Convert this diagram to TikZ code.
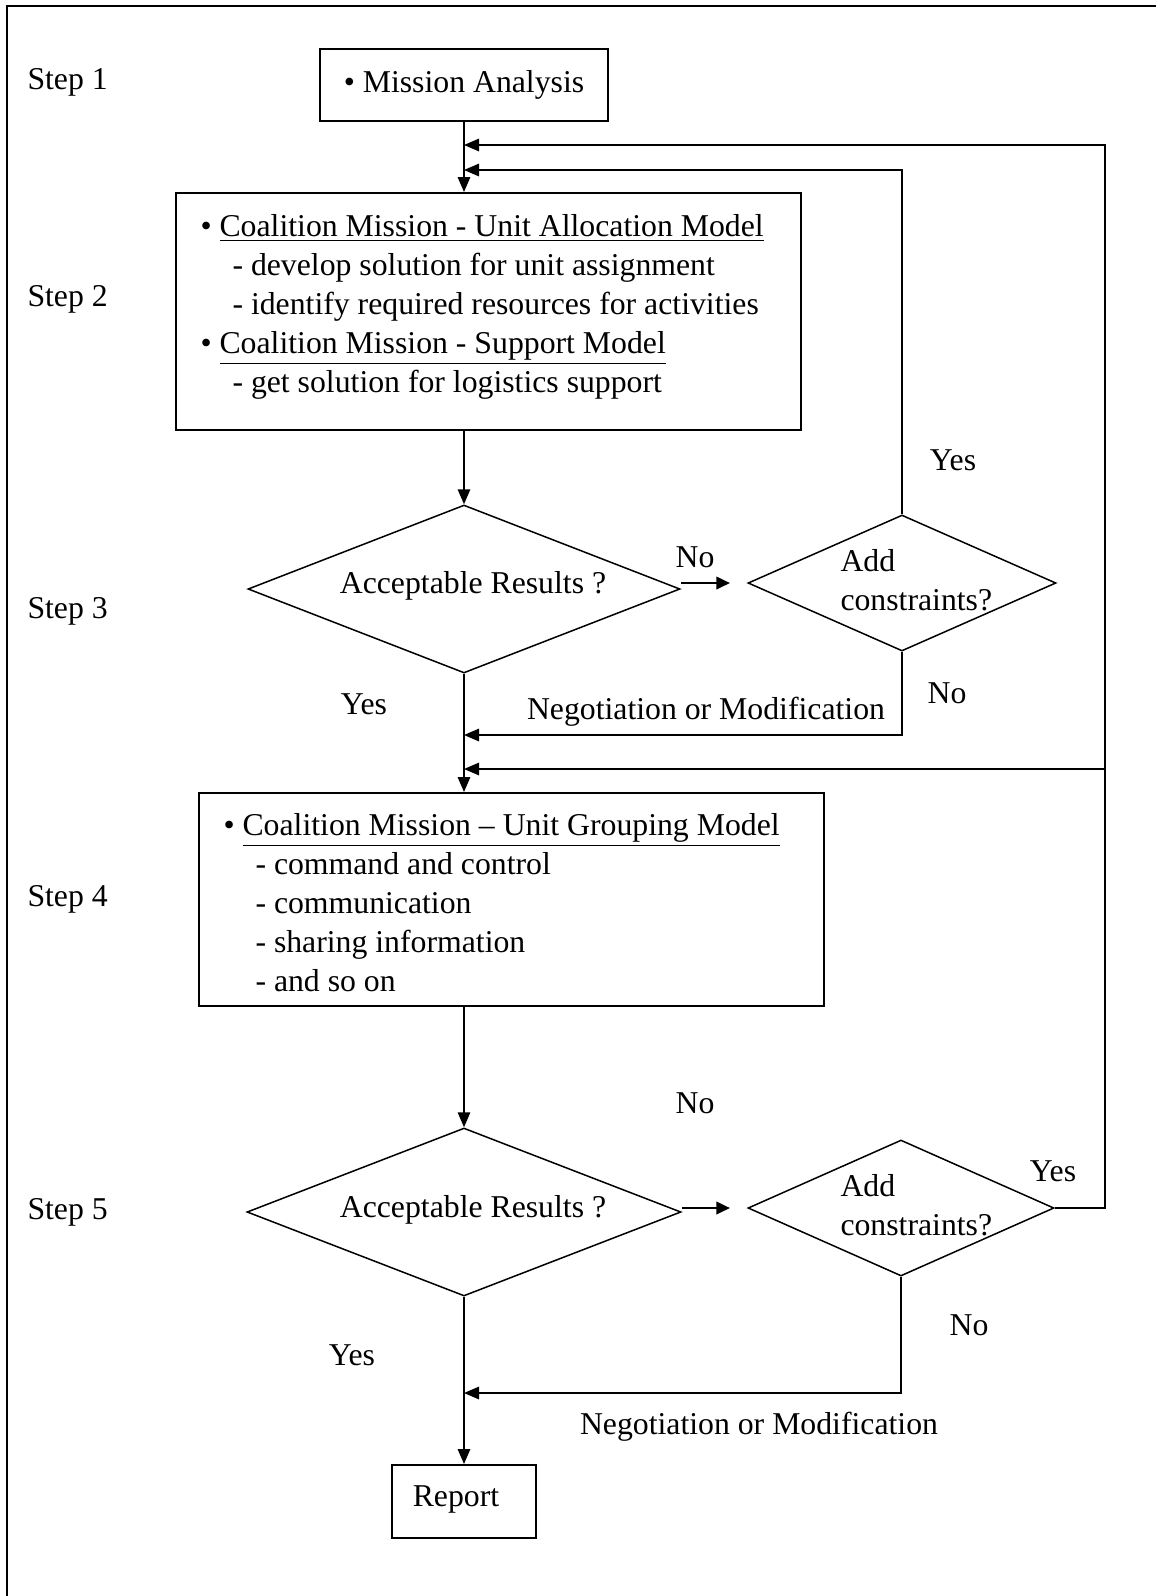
\documentclass[tikz,border=0pt]{standalone}
\usepackage{fontspec}
\setmainfont{Liberation Serif}
\usetikzlibrary{arrows.meta,positioning,shapes.geometric}
\tikzset{
  arrow/.style={-{Triangle[length=6pt,width=5pt]},line width=0.6pt},
  noarrow/.style={-{Triangle[length=5.5pt,width=5pt]},line width=1pt},
  stagebox/.style={draw,line width=0.8pt,inner sep=0pt},
  decision/.style={diamond,draw,line width=0.6pt,inner sep=0pt},
  boxtext/.style={anchor=north west,align=left,inner sep=0pt},
  steplabel/.style={anchor=west,inner sep=0pt},
  flowlabel/.style={inner sep=0pt}
}
\newcommand{\subpt}[1]{\hspace*{12.8pt}- #1}

\begin{document}
\begin{tikzpicture}[x=0.4pt,y=-0.4pt,font=\fontsize{12.7pt}{15.6pt}\selectfont]
  \useasboundingbox (0,0) rectangle (1156,1596);
  \draw[line width=0.8pt] (7,1596) -- (7,6) -- (1156,6);

  % step labels
  \node[steplabel] (step1) at (27,82) {Step 1};
  \node[steplabel] (step2) at (27,299) {Step 2};
  \node[steplabel] (step3) at (27,611) {Step 3};
  \node[steplabel] (step4) at (27,899) {Step 4};
  \node[steplabel] (step5) at (27,1212) {Step 5};

  % step 1
  \node[stagebox,minimum width=115.2pt,minimum height=28.8pt] (mission) at (464,85)
    {\textbullet\ Mission Analysis};

  % step 2
  \node[stagebox,minimum width=250pt,minimum height=94.8pt] (alloc) at (488.5,311.5) {};
  \node[boxtext] (alloctxt) at (200,214)
    {\textbullet\ \underline{Coalition Mission - Unit Allocation Model}\\
     \subpt{develop solution for unit assignment}\\
     \subpt{identify required resources for activities}\\
     \textbullet\ \underline{Coalition Mission - Support Model}\\
     \subpt{get solution for logistics support}};

  % step 3
  \node[decision,minimum width=172.8pt,minimum height=67.2pt] (accept1) at (464,589) {};
  \node[flowlabel] (accept1txt) at (473,586) {Acceptable Results ?};
  \node[decision,minimum width=123.2pt,minimum height=54.4pt] (add1) at (902,583) {};
  \node[flowlabel,align=left,anchor=west] (add1txt) at (840,580) {Add\\constraints?};
  \coordinate (nogap1) at (730,583);
  \coordinate (loopjoin) at (464,170);
  \coordinate (negjoin1) at (464,735);
  \node[flowlabel] (no1) at (695,557) {No};
  \node[flowlabel] (yes1) at (953,460) {Yes};
  \node[flowlabel] (no2) at (947,693) {No};
  \node[flowlabel] (neg1) at (706,712) {Negotiation or Modification};
  \node[flowlabel] (yes2) at (364,704) {Yes};

  % step 4
  \node[stagebox,minimum width=250pt,minimum height=85.2pt] (group) at (511.5,899.5) {};
  \node[boxtext] (grouptxt) at (223,813)
    {\textbullet\ \underline{Coalition Mission – Unit Grouping Model}\\
     \subpt{command and control}\\
     \subpt{communication}\\
     \subpt{sharing information}\\
     \subpt{and so on}};

  % step 5
  \node[decision,minimum width=173.6pt,minimum height=67.2pt] (accept2) at (464,1212) {};
  \node[flowlabel] (accept2txt) at (473,1210) {Acceptable Results ?};
  \node[decision,minimum width=122.4pt,minimum height=54.4pt] (add2) at (901,1208) {};
  \node[flowlabel,align=left,anchor=west] (add2txt) at (840,1205) {Add\\constraints?};
  \node[stagebox,minimum width=57.6pt,minimum height=29.2pt] (report) at (464,1501.5) {};
  \node[flowlabel] (reporttxt) at (456,1499) {Report};
  \coordinate (nogap2) at (730,1208);
  \coordinate (rimlow) at (1105,1208);
  \coordinate (rimmid) at (1105,769);
  \coordinate (rimtop) at (1105,145);
  \coordinate (midjoin) at (464,769);
  \coordinate (topjoin) at (464,145);
  \coordinate (negjoin2) at (464,1393);
  \node[flowlabel] (no3) at (695,1103) {No};
  \node[flowlabel] (yes3) at (1053,1171) {Yes};
  \node[flowlabel] (no4) at (969,1325) {No};
  \node[flowlabel] (neg2) at (759,1427) {Negotiation or Modification};
  \node[flowlabel] (yes4) at (352,1355) {Yes};

  % connectors
  \draw[arrow] (mission.south) -- (mission.south |- alloc.north);
  \draw[arrow] (accept1.north |- alloc.south) -- (accept1.north);
  \draw[noarrow] (accept1.east |- add1.west) -- (nogap1);
  \draw[arrow] (add1.north) -- (add1.north |- loopjoin) -- (loopjoin);
  \draw[arrow] (add1.south) -- (add1.south |- negjoin1) -- (negjoin1);
  \draw[arrow] (accept1.south) -- (accept1.south |- group.north);
  \draw[arrow] (accept2.north |- group.south) -- (accept2.north);
  \draw[noarrow] (accept2.east |- add2.west) -- (nogap2);
  \draw[arrow] (add2.east) -- (rimlow) -- (rimtop) -- (topjoin);
  \draw[arrow] (rimmid) -- (midjoin);
  \draw[arrow] (add2.south) -- (add2.south |- negjoin2) -- (negjoin2);
  \draw[arrow] (accept2.south) -- (report.north);
\end{tikzpicture}
\end{document}
